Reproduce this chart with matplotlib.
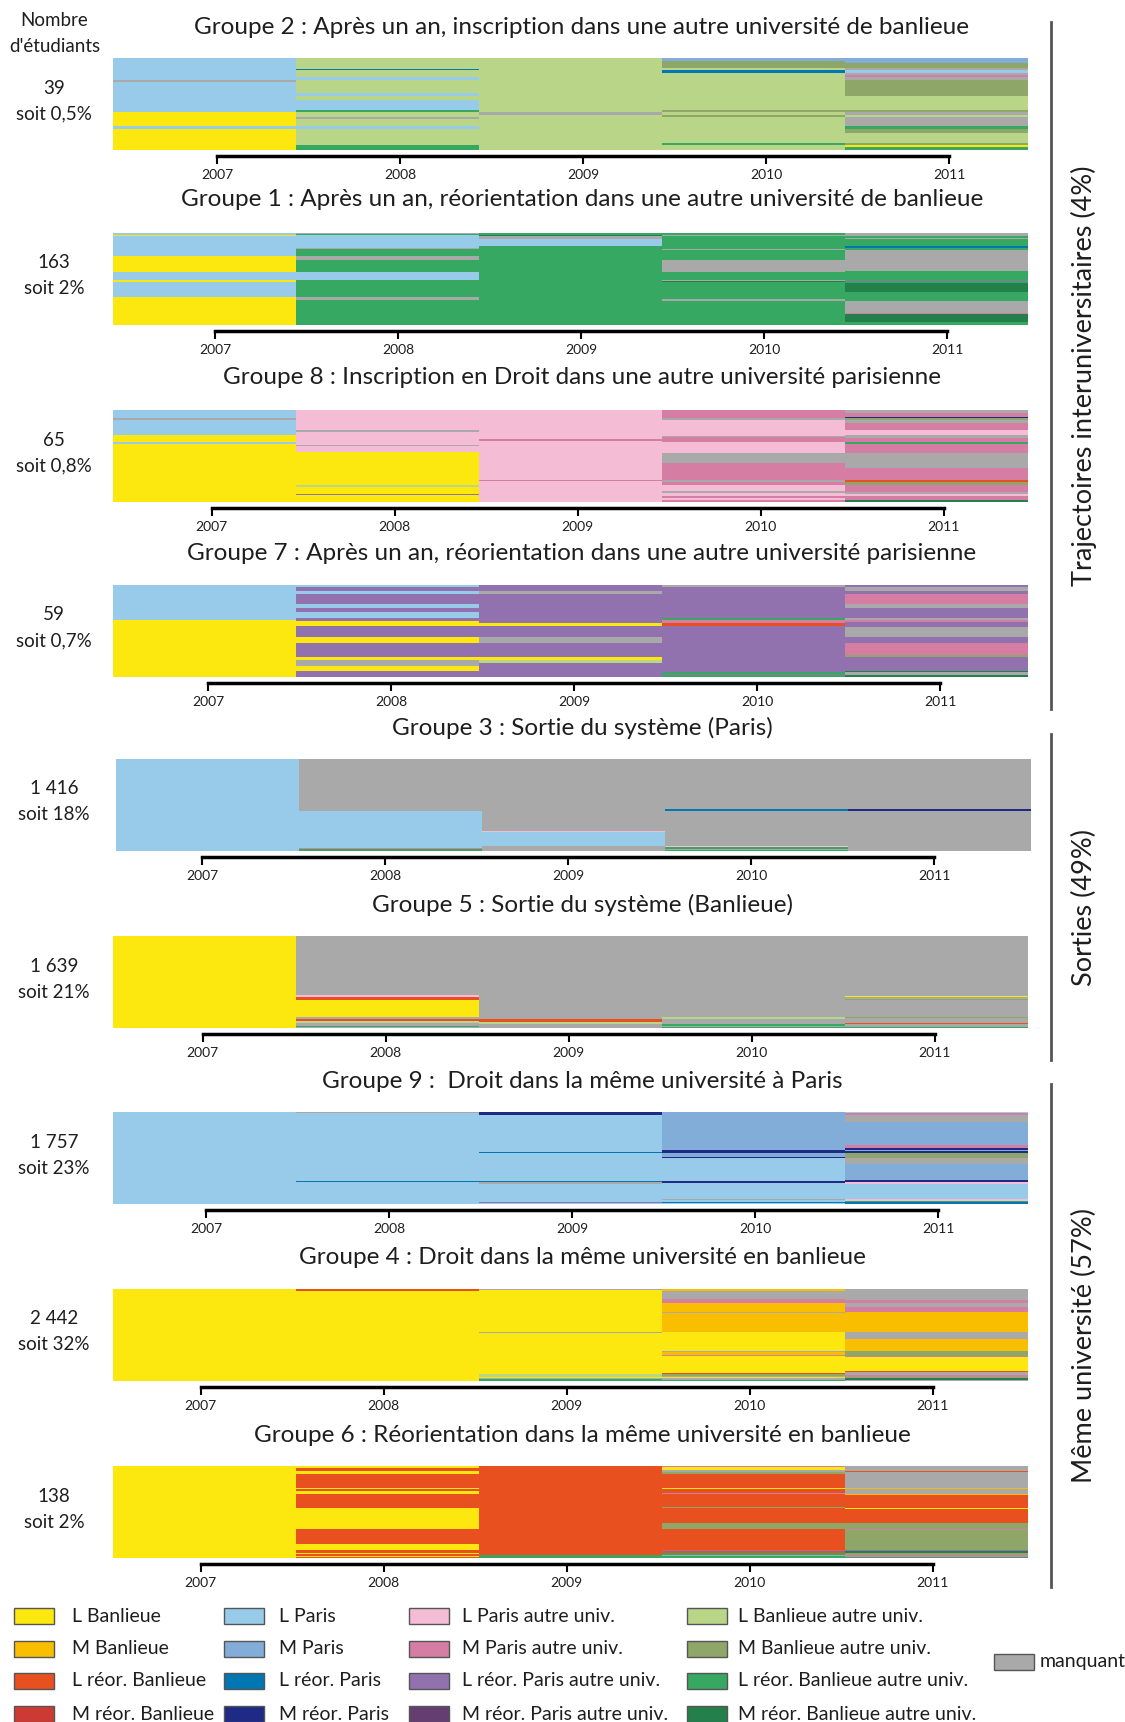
import matplotlib
matplotlib.use("Agg")
import matplotlib.pyplot as plt
from matplotlib.patches import Rectangle

plt.rcParams['font.family'] = ['Lato', 'DejaVu Sans']
plt.rcParams['font.weight'] = 'normal'

W, H = 1125, 1722

years = ["2007", "2008", "2009", "2010", "2011"]

# states, in legend order (column by column)
state_codes = ["LB", "MB", "LRB", "MRB", "LP", "MP", "LRP", "MRP",
               "LPA", "MPA", "LRPA", "MRPA", "LBA", "MBA", "LRBA", "MRBA"]
state_labels = ["L Banlieue", "M Banlieue", "L réor. Banlieue", "M réor. Banlieue",
                "L Paris", "M Paris", "L réor. Paris", "M réor. Paris",
                "L Paris autre univ.", "M Paris autre univ.", "L réor. Paris autre univ.", "M réor. Paris autre univ.",
                "L Banlieue autre univ.", "M Banlieue autre univ.", "L réor. Banlieue autre univ.", "M réor. Banlieue autre univ."]
state_colors = ["#FCE80F", "#F9BE00", "#E8511F", "#CD3A33",
                "#98CBEA", "#82ADD8", "#0076B2", "#1E2A85",
                "#F4BDD5", "#D57DA3", "#9272AE", "#643E70",
                "#B8D588", "#8EA668", "#36A862", "#23804B"]
na_color = "#A8A9A8"
colors = dict(zip(state_codes, state_colors))
colors["NA"] = na_color

# each year: (state, share) from top to bottom
groupe2 = [
    [("LP", 67), ("NA", 5), ("LP", 90), ("LB", 43), ("LP", 9), ("LB", 63)],
    [("LBA", 32), ("LRP", 4), ("LBA", 22), ("LP", 7), ("LBA", 41), ("LP", 8), ("LBA", 12), ("LP", 31),
     ("LRBA", 6), ("LBA", 14), ("NA", 6), ("LBA", 22), ("LP", 9), ("LBA", 48), ("LRBA", 15)],
    [("LBA", 162), ("NA", 9), ("LBA", 106)],
    [("MP", 10), ("MBA", 20), ("LBA", 6), ("LRP", 9), ("LBA", 112), ("MBA", 5), ("LBA", 10), ("MBA", 6),
     ("LBA", 77), ("LRBA", 6), ("LBA", 16)],
    [("MP", 15), ("MBA", 15), ("NA", 6), ("LP", 9), ("NA", 6), ("MPA", 6), ("NA", 10), ("MBA", 48),
     ("LBA", 42), ("MBA", 6), ("NA", 9), ("LBA", 5), ("NA", 27), ("LRBA", 9), ("MBA", 12), ("LBA", 30),
     ("MBA", 6), ("LB", 6), ("LRBA", 10)],
]

groupe1 = [
    [("LP", 6), ("LB", 2), ("LP", 60), ("LB", 47), ("LP", 23), ("LB", 7), ("LP", 45), ("LB", 82)],
    [("NA", 3), ("LRBA", 4), ("LP", 37), ("NA", 3), ("LRBA", 21), ("NA", 12), ("LRBA", 35), ("LP", 24),
     ("LRBA", 51), ("NA", 7), ("LRBA", 75)],
    [("LRBA", 5), ("MRBA", 3), ("NA", 10), ("LP", 20), ("LRBA", 234)],
    [("LRBA", 5), ("NA", 3), ("LRBA", 39), ("NA", 4), ("LRBA", 29), ("NA", 35), ("LRBA", 24), ("NA", 4),
     ("MRBA", 2), ("LRBA", 51), ("NA", 6), ("LRBA", 70)],
    [("NA", 8), ("LRBA", 8), ("NA", 3), ("LRBA", 18), ("LRP", 6), ("LRBA", 7), ("NA", 63), ("LRBA", 26),
     ("LRPA", 4), ("LRBA", 4), ("MRBA", 26), ("LRBA", 29), ("NA", 34), ("MPA", 3), ("MRBA", 24), ("LRBA", 9)],
]

groupe8 = [
    [("LP", 23), ("NA", 8), ("LP", 44), ("LB", 20), ("LP", 6), ("LB", 171)],
    [("LPA", 59), ("NA", 6), ("LPA", 37), ("NA", 4), ("LPA", 19), ("LB", 96), ("LBA", 7), ("LB", 20),
     ("LRPA", 4), ("LB", 20)],
    [("LPA", 86), ("MPA", 6), ("LPA", 114), ("MPA", 3), ("LPA", 63)],
    [("MPA", 23), ("NA", 7), ("LPA", 46), ("NA", 5), ("MPA", 15), ("LPA", 30), ("NA", 30), ("MPA", 52),
     ("NA", 4), ("MPA", 10), ("LPA", 17), ("NA", 7), ("LPA", 7), ("MPA", 8), ("LPA", 5), ("MPA", 6)],
    [("NA", 9), ("MPA", 11), ("MRP", 3), ("MBA", 7), ("NA", 7), ("MPA", 22), ("LPA", 16), ("NA", 7),
     ("MPA", 12), ("LRBA", 7), ("MPA", 25), ("NA", 45), ("MPA", 37), ("LRB", 4), ("MBA", 9), ("MPA", 20),
     ("NA", 7), ("LPA", 6), ("MPA", 12), ("MRBA", 6)],
]

groupe7 = [
    [("LP", 105), ("LB", 170)],
    [("LP", 6), ("LRPA", 11), ("LP", 11), ("LRPA", 28), ("LP", 13), ("LRPA", 12), ("LP", 18), ("LRPA", 9),
     ("LB", 15), ("LRPA", 33), ("LB", 18), ("LRPA", 41), ("LB", 8), ("NA", 20), ("LB", 15), ("LRPA", 17)],
    [("LRPA", 17), ("NA", 10), ("LRPA", 86), ("LB", 10), ("LRPA", 33), ("NA", 18), ("LRPA", 41), ("LB", 10),
     ("LBA", 8), ("LRPA", 42)],
    [("NA", 6), ("LRPA", 92), ("LRBA", 6), ("MPA", 9), ("LRB", 10), ("LRPA", 137), ("LRBA", 7), ("LRPA", 3),
     ("LRBA", 5)],
    [("LRPA", 6), ("NA", 12), ("LRPA", 8), ("MPA", 30), ("NA", 12), ("LRPA", 31), ("NA", 6), ("MPA", 6),
     ("LRPA", 16), ("NA", 28), ("LRPA", 19), ("MPA", 35), ("MBA", 6), ("LRPA", 42), ("MRBA", 4), ("NA", 8),
     ("MRBA", 6)],
]

groupe3 = [
    [("LP", 274)],
    [("NA", 154), ("LP", 111), ("MPA", 3), ("LRBA", 6)],
    [("NA", 214), ("LPA", 4), ("LP", 42), ("NA", 14)],
    [("NA", 150), ("LRP", 4), ("NA", 105), ("LPA", 4), ("LRBA", 5), ("NA", 2), ("LRBA", 4)],
    [("NA", 148), ("MBA", 2), ("MRP", 4), ("NA", 120)],
]

groupe5 = [
    [("LB", 275)],
    [("NA", 177), ("LPA", 5), ("LRB", 8), ("LB", 52), ("NA", 5), ("LRB", 7), ("LBA", 5), ("NA", 10),
     ("LRBA", 4), ("NA", 2)],
    [("NA", 247), ("LRB", 9), ("NA", 2), ("LBA", 4), ("NA", 13)],
    [("NA", 242), ("LBA", 5), ("NA", 15), ("LRBA", 7), ("NA", 3), ("LRBA", 3)],
    [("NA", 180), ("LB", 3), ("NA", 5), ("MBA", 3), ("NA", 51), ("MBA", 3), ("NA", 16), ("LRB", 3),
     ("NA", 8), ("LRBA", 3)],
]

groupe9 = [
    [("LP", 274)],
    [("NA", 2), ("LP", 203), ("LRP", 3), ("LP", 66)],
    [("MRP", 10), ("LP", 108), ("LRP", 3), ("LP", 84), ("LRP", 3), ("NA", 5), ("LP", 55), ("LRPA", 4),
     ("LP", 2)],
    [("MP", 113), ("MRP", 8), ("MP", 12), ("MRP", 3), ("LP", 69), ("MRP", 5), ("LP", 48), ("NA", 4),
     ("LP", 6), ("LRP", 3), ("LP", 3)],
    [("LP", 4), ("MPA", 5), ("NA", 20), ("MP", 69), ("MPA", 10), ("MRP", 4), ("MP", 3), ("MRP", 6),
     ("MBA", 15), ("NA", 18), ("MP", 48), ("MRP", 6), ("LPA", 5), ("LP", 46), ("LPA", 7), ("LRBA", 3),
     ("LRP", 5)],
]

groupe4 = [
    [("LB", 276)],
    [("LRB", 5), ("LB", 271)],
    [("NA", 3), ("LB", 125), ("NA", 3), ("LB", 125), ("LBA", 7), ("LB", 4), ("NA", 4), ("LRBA", 5)],
    [("MB", 6), ("NA", 24), ("MPA", 11), ("NA", 2), ("MB", 25), ("NA", 3), ("MB", 57), ("LB", 57),
     ("NA", 5), ("MB", 8), ("MPA", 3), ("LB", 50), ("LRB", 4), ("MBA", 6), ("NA", 3), ("LB", 4),
     ("NA", 5), ("LRBA", 3)],
    [("NA", 33), ("MPA", 8), ("NA", 12), ("MPA", 15), ("MB", 60), ("NA", 23), ("MB", 34), ("MBA", 16),
     ("MPA", 3), ("LB", 41), ("LRB", 4), ("NA", 9), ("MPA", 5), ("MBA", 5), ("MRBA", 4), ("NA", 4)],
]

groupe6 = [
    [("LB", 276)],
    [("LB", 7), ("LRB", 9), ("LB", 9), ("LRB", 40), ("LB", 5), ("LRB", 6), ("LB", 9), ("LRB", 42),
     ("LB", 63), ("LRB", 44), ("LB", 19), ("LRB", 7), ("LB", 5), ("LRB", 4), ("LB", 3), ("LRB", 4)],
    [("LRB", 268), ("LRBA", 8)],
    [("MPA", 4), ("LB", 7), ("NA", 8), ("MBA", 6), ("LRB", 40), ("LB", 5), ("LRB", 11), ("MPA", 3),
     ("LRB", 40), ("MBA", 3), ("LRB", 45), ("MBA", 18), ("LRB", 61), ("LRPA", 4), ("LRB", 7), ("LRBA", 5),
     ("NA", 3), ("LRBA", 6)],
    [("NA", 16), ("LRB", 3), ("NA", 46), ("MB", 3), ("NA", 17), ("MB", 3), ("LRB", 37), ("LB", 4),
     ("LRB", 43), ("MBA", 18), ("MPA", 3), ("MBA", 59), ("LRPA", 4), ("MRBA", 6), ("MBA", 5), ("MPA", 5),
     ("LRBA", 4)],
]

titles = ["Groupe 2 : Après un an, inscription dans une autre université de banlieue",
          "Groupe 1 : Après un an, réorientation dans une autre université de banlieue",
          "Groupe 8 : Inscription en Droit dans une autre université parisienne",
          "Groupe 7 : Après un an, réorientation dans une autre université parisienne",
          "Groupe 3 : Sortie du système (Paris)",
          "Groupe 5 : Sortie du système (Banlieue)",
          "Groupe 9 :  Droit dans la même université à Paris",
          "Groupe 4 : Droit dans la même université en banlieue",
          "Groupe 6 : Réorientation dans la même université en banlieue"]
counts = ["39", "163", "65", "59", "1 416", "1 639", "1 757", "2 442", "138"]
shares = ["soit 0,5%", "soit 2%", "soit 0,8%", "soit 0,7%", "soit 18%", "soit 21%",
          "soit 23%", "soit 32%", "soit 2%"]
panel_data = [groupe2, groupe1, groupe8, groupe7, groupe3, groupe5, groupe9, groupe4, groupe6]

blocks = ["Trajectoires interuniversitaires (4%)", "Sorties (49%)", "Même université (57%)"]

# layout in pixels
bar_tops = [58, 233, 410, 585, 759, 936, 1112, 1289, 1466]
bar_lefts = [113, 113, 113, 113, 116, 113, 113, 113, 113]
title_ys = [27, 200, 378, 554, 728, 905, 1081, 1258, 1435]
tick_offsets = [0.57, 0.56, 0.54, 0.52, 0.47, 0.49, 0.51, 0.48, 0.48]
bar_w, bar_h = 915, 92
txt = "#1e1e1e"

fig = plt.figure(figsize=(W / 100, H / 100), dpi=100)


def fx(x):
    return x / W


def fy(y):
    return 1 - y / H


for k, data in enumerate(panel_data):
    left, top = bar_lefts[k], bar_tops[k]
    ax = fig.add_axes([fx(left), fy(top + bar_h), bar_w / W, bar_h / H])
    for i, col in enumerate(data):
        total = float(sum(n for _, n in col))
        bottom = 0.0
        for st, n in col:
            ax.bar(i, n / total, width=1, bottom=bottom, align="edge",
                   color=colors[st], linewidth=0, antialiased=False)
            bottom += n / total
    ax.set_xlim(0, 5)
    ax.set_ylim(1, 0)
    for s in ["top", "left", "right"]:
        ax.spines[s].set_visible(False)
    ticks = [i + tick_offsets[k] for i in range(5)]
    ax.spines["bottom"].set_position(("outward", 4))
    ax.spines["bottom"].set_bounds(ticks[0], ticks[-1])
    ax.spines["bottom"].set_linewidth(2.5)
    ax.set_xticks(ticks)
    ax.set_xticklabels(years)
    ax.tick_params(axis="x", length=6, width=1.5, pad=4, labelsize=10, labelcolor=txt)
    ax.set_yticks([])

    fig.text(fx(582), fy(title_ys[k]), titles[k], ha="center", va="center",
             fontsize=17.5, color=txt)
    cy = top + bar_h / 2
    fig.text(fx(54), fy(cy - 16), counts[k], ha="center", va="center", fontsize=13.5, color=txt)
    fig.text(fx(54), fy(cy + 10), shares[k], ha="center", va="center", fontsize=13.5, color=txt)

fig.text(fx(54), fy(20), "Nombre", ha="center", va="center", fontsize=13.5, color=txt)
fig.text(fx(55), fy(46), "d'étudiants", ha="center", va="center", fontsize=13.5, color=txt)

# brackets on the right
spans = [(22, 709), (734, 1060), (1084, 1587)]
for (y0, y1), lab in zip(spans, blocks):
    fig.add_artist(plt.Line2D([fx(1051), fx(1051)], [fy(y0), fy(y1)], color="#555555", lw=2))
    fig.text(fx(1084), fy((y0 + y1) / 2 + 10), lab, rotation=90, ha="center", va="center",
             fontsize=19.5, color=txt)

# legend
col_box_x = [14, 224, 409, 687]
col_txt_x = [72, 279, 462, 738]
row_y = [1616, 1649, 1681, 1714]
for j, (code, lab) in enumerate(zip(state_codes, state_labels)):
    c, r = j // 4, j % 4
    fig.add_artist(Rectangle((fx(col_box_x[c]), fy(row_y[r] + 8)), 40 / W, 16 / H,
                             facecolor=colors[code], edgecolor="#555555", lw=1))
    fig.text(fx(col_txt_x[c]), fy(row_y[r]), lab, ha="left", va="center", fontsize=14, color=txt)
fig.add_artist(Rectangle((fx(994), fy(1662 + 8)), 40 / W, 16 / H,
                         facecolor=na_color, edgecolor="#555555", lw=1))
fig.text(fx(1040), fy(1662), "manquant", ha="left", va="center", fontsize=14, color=txt)

fig.savefig("out.png", dpi=100)
